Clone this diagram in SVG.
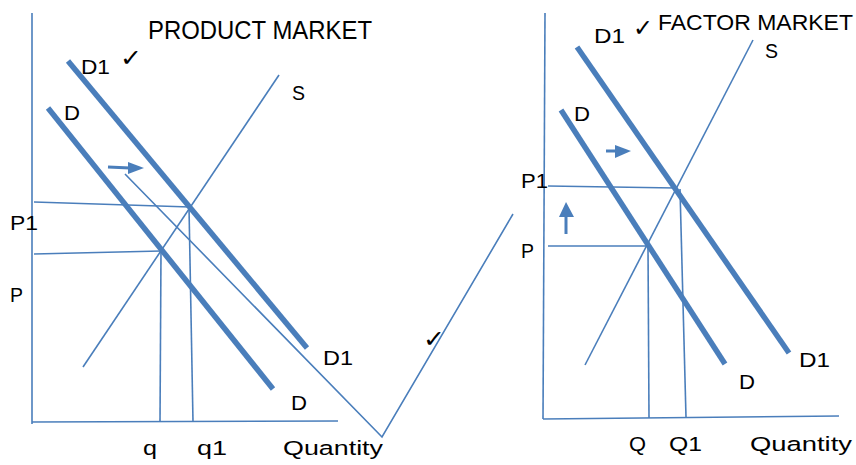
<svg xmlns="http://www.w3.org/2000/svg" width="856" height="465" viewBox="0 0 856 465">
<defs>
<style>
.thin{stroke:#4a7ebb;stroke-width:1.6;fill:none;stroke-linecap:butt}
.thick{stroke:#4a7ebb;stroke-width:5.5;fill:none}
.arr{stroke:#4a7ebb;stroke-width:3;fill:none}
.head{fill:#4a7ebb;stroke:none}
text{font-family:"Liberation Sans",Arial,sans-serif;font-size:20.5px;fill:#000}
.title{font-size:25px}
.title2{font-size:22.5px}
.chk{font-family:"DejaVu Sans",sans-serif;font-size:24px}
</style>
</defs>
<rect width="856" height="465" fill="#fff"/>

<g id="product-market">
<text class="title" x="148" y="39" textLength="224" lengthAdjust="spacingAndGlyphs">PRODUCT MARKET</text>
<g id="left-axes">
<line class="thin" x1="32" y1="13" x2="32" y2="424"/>
<line class="thin" x1="32" y1="422" x2="338" y2="421"/>
<text x="283" y="455" textLength="100" lengthAdjust="spacingAndGlyphs">Quantity</text>
</g>
<g id="left-D1">
<line class="thick" x1="68" y1="61" x2="307" y2="348"/>
<text x="81" y="74" textLength="29" lengthAdjust="spacingAndGlyphs">D1</text>
<text class="chk" x="120" y="66" textLength="22" lengthAdjust="spacingAndGlyphs">✓</text>
<text x="323" y="365" textLength="30" lengthAdjust="spacingAndGlyphs">D1</text>
</g>
<g id="left-D">
<line class="thick" x1="48" y1="108" x2="273" y2="389"/>
<text x="64" y="120" textLength="16" lengthAdjust="spacingAndGlyphs">D</text>
<text x="291" y="410" textLength="16" lengthAdjust="spacingAndGlyphs">D</text>
</g>
<g id="left-S">
<line class="thin" x1="279" y1="75" x2="83" y2="367"/>
<text x="292" y="100" textLength="13" lengthAdjust="spacingAndGlyphs">S</text>
</g>
<g id="left-P1">
<line class="thin" x1="34" y1="202" x2="190" y2="207"/>
<line class="thin" x1="189" y1="207" x2="193" y2="422"/>
<text x="10" y="230" textLength="28" lengthAdjust="spacingAndGlyphs">P1</text>
<text x="197" y="455" textLength="30" lengthAdjust="spacingAndGlyphs">q1</text>
</g>
<g id="left-P">
<line class="thin" x1="34" y1="254" x2="161" y2="251"/>
<line class="thin" x1="161" y1="251" x2="160" y2="422"/>
<text x="10" y="302" textLength="13" lengthAdjust="spacingAndGlyphs">P</text>
<text x="143" y="455" textLength="14" lengthAdjust="spacingAndGlyphs">q</text>
</g>
<g id="left-shift-arrow">
<line class="arr" x1="108" y1="167" x2="130" y2="168"/>
<polygon class="head" points="128,162 144,168 128,174"/>
</g>
</g>

<g id="factor-market">
<text class="title2" x="658" y="30" textLength="195" lengthAdjust="spacingAndGlyphs">FACTOR MARKET</text>
<g id="right-axes">
<line class="thin" x1="545" y1="13" x2="543" y2="419"/>
<line class="thin" x1="543" y1="419" x2="839" y2="416"/>
<text x="750" y="451" textLength="102" lengthAdjust="spacingAndGlyphs">Quantity</text>
</g>
<g id="right-D1">
<line class="thick" x1="577" y1="47" x2="789" y2="353"/>
<text x="594" y="43" textLength="31" lengthAdjust="spacingAndGlyphs">D1</text>
<text class="chk" x="633" y="36" textLength="20" lengthAdjust="spacingAndGlyphs">✓</text>
<text x="799" y="367" textLength="31" lengthAdjust="spacingAndGlyphs">D1</text>
</g>
<g id="right-D">
<line class="thick" x1="561" y1="110" x2="725" y2="364"/>
<text x="574" y="121" textLength="16" lengthAdjust="spacingAndGlyphs">D</text>
<text x="739" y="389" textLength="16" lengthAdjust="spacingAndGlyphs">D</text>
</g>
<g id="right-S">
<line class="thin" x1="753" y1="40" x2="585" y2="365"/>
<text x="765" y="58" textLength="13" lengthAdjust="spacingAndGlyphs">S</text>
</g>
<g id="right-P1">
<line class="thin" x1="548" y1="186" x2="676" y2="188"/>
<line class="thin" x1="680" y1="189" x2="686" y2="417"/>
<text x="521" y="188" textLength="27" lengthAdjust="spacingAndGlyphs">P1</text>
<text x="669" y="451" textLength="33" lengthAdjust="spacingAndGlyphs">Q1</text>
</g>
<g id="right-P">
<line class="thin" x1="548" y1="246" x2="648" y2="246"/>
<line class="thin" x1="648" y1="246" x2="649" y2="418"/>
<text x="521" y="258" textLength="13" lengthAdjust="spacingAndGlyphs">P</text>
<text x="629" y="451" textLength="17" lengthAdjust="spacingAndGlyphs">Q</text>
</g>
<g id="right-shift-arrow">
<line class="arr" x1="606" y1="151" x2="617" y2="151"/>
<polygon class="head" points="615,145 631,151 615,158"/>
</g>
<g id="right-price-arrow">
<line class="arr" x1="566" y1="234" x2="566" y2="215"/>
<polygon class="head" points="559,217 566,202 574,217"/>
</g>
</g>

<g id="connectors">
<polyline class="thin" points="125,174 382,437 513,214"/>
<text class="chk" x="423" y="347" textLength="22" lengthAdjust="spacingAndGlyphs">✓</text>
</g>
</svg>
